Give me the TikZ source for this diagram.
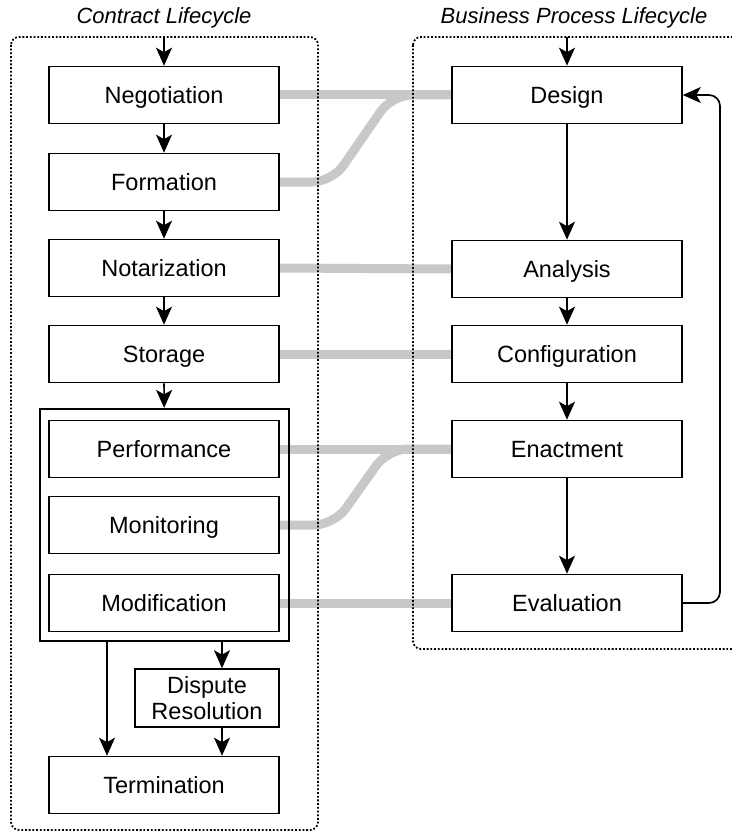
\documentclass[tikz,border=0pt]{standalone}
\usepackage{fontspec}
\setmainfont{Liberation Sans}
\usetikzlibrary{arrows.meta,backgrounds}
\definecolor{linkgray}{RGB}{200,200,200}
\begin{document}
\begin{tikzpicture}[x=1pt,y=-1pt,
  txt/.style={font=\fontsize{23.5}{27}\selectfont},
  stagebox/.style={draw, line width=1.6pt, minimum width=230pt, minimum height=57pt, inner sep=0pt, fill=white, txt},
  stage/.style={stagebox, text height=17pt, text depth=0pt},
  title/.style={font=\fontsize{22}{26}\selectfont\itshape},
  lane/.style={draw, line width=1.8pt, dash pattern=on 1.8pt off 1.9pt, rounded corners=8pt},
  arr/.style={draw, line width=1.7pt, -{Stealth[length=18pt,width=16pt,inset=4.5pt]}},
  link/.style={draw=linkgray, line width=9pt, rounded corners=20pt}
]
\clip (0,0) rectangle (731,832);
\useasboundingbox (0,0) rectangle (731,832);

% lane titles
\node[title] (tl) at (164,18) {Contract Lifecycle};
\node[title] (tr) at (574,18) {Business Process Lifecycle};

% lane frames (corners) and entry points
\coordinate (ltl) at (11,37);
\coordinate (lbr) at (318,830);
\coordinate (rtl) at (413,37);
\coordinate (rbr) at (760,649);
\coordinate (lin) at (164,37);
\coordinate (rin) at (567,37);

% contract lifecycle stages
\node[stage] (neg)  at (164,95)  {Negotiation};
\node[stage] (form) at (164,182) {Formation};
\node[stage] (nota) at (164,268) {Notarization};
\node[stage] (stor) at (164,354) {Storage};
\node[draw, line width=2.2pt, minimum width=249pt, minimum height=232pt, inner sep=0pt] (exec) at (164.5,525) {};
\node[stage] (perf) at (164,449) {Performance};
\node[stage] (moni) at (164,525) {Monitoring};
\node[stage] (modi) at (164,603) {Modification};
\node[stagebox, minimum width=144pt, minimum height=58pt, align=center] (disp) at (207,698) {Dispute\\[-1pt]Resolution};
\node[stage] (term) at (164,785) {Termination};

% business process lifecycle stages
\node[stage] (des)  at (567,95)  {Design};
\node[stage] (ana)  at (567,269) {Analysis};
\node[stage] (conf) at (567,354) {Configuration};
\node[stage] (enac) at (567,449) {Enactment};
\node[stage] (eval) at (567,603) {Evaluation};

% bends of the crossing links
\coordinate (fa) at (332,182);
\coordinate (fb) at (392,95);
\coordinate (ma) at (334,525);
\coordinate (mb) at (388,449);
\coordinate (loop) at (720,0);

\begin{scope}[on background layer]
  % correspondences between the two lifecycles
  \draw[link] (neg.east) -- (des.west);
  \draw[link] (form.east) -- (fa) -- (fb) -- (des.west);
  \draw[link] (nota.east) -- (ana.west);
  \draw[link] (stor.east) -- (conf.west);
  \draw[link] (perf.east) -- (enac.west);
  \draw[link] (moni.east) -- (ma) -- (mb) -- (enac.west);
  \draw[link] (modi.east) -- (eval.west);
  % lanes
  \draw[lane] (ltl) rectangle (lbr);
  \draw[lane] (rtl) rectangle (rbr);
\end{scope}

% contract flow
\draw[arr] (lin) -- (neg);
\draw[arr] (neg) -- (form);
\draw[arr] (form) -- (nota);
\draw[arr] (nota) -- (stor);
\draw[arr] (stor) -- (exec);
\draw[arr] ([xshift=15pt]disp.north |- exec.south) -- ([xshift=15pt]disp.north);
\draw[arr] ([xshift=15pt]disp.south) -- ([xshift=15pt]disp.south |- term.north);
\draw[arr] ([xshift=-57pt]term.north |- exec.south) -- ([xshift=-57pt]term.north);

% process flow
\draw[arr] (rin) -- (des);
\draw[arr] (des) -- (ana);
\draw[arr] (ana) -- (conf);
\draw[arr] (conf) -- (enac);
\draw[arr] (enac) -- (eval);
\draw[arr, rounded corners=11pt] (eval.east) -- (eval.east -| loop) -- (des.east -| loop) -- (des.east);
\end{tikzpicture}
\end{document}
